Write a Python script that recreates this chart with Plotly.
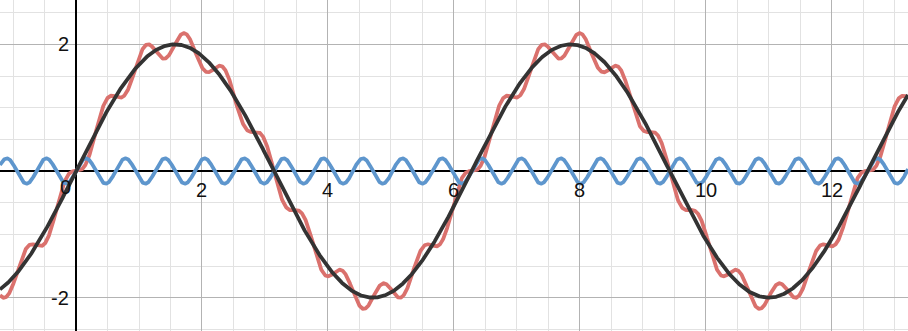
import numpy as np
import plotly.graph_objects as go

# Curve definitions: amplitude, angular frequency for each plotted function
base_amp, base_freq = 2.0, 1.0        # f(x) = 2 sin(x)
ripple_amp, ripple_freq = 0.2, 10.0   # g(x) = 0.2 sin(10x)

# Axis labels drawn next to the axes
x_tick_vals = [2, 4, 6, 8, 10, 12]
x_tick_text = ["2", "4", "6", "8", "10", "12"]
y_tick_vals = [2, -2]
y_tick_text = ["2", "-2"]

x_range = [-1.207, 13.21]
y_range = [-2.526, 2.70]

x = np.linspace(x_range[0], x_range[1], 3000)
base = base_amp * np.sin(base_freq * x)
ripple = ripple_amp * np.sin(ripple_freq * x)
combined = base - ripple

RED = "#da716d"
BLUE = "#5e96cd"
BLACK = "#333333"

fig = go.Figure()
fig.add_trace(go.Scatter(x=x, y=combined, mode="lines",
                         line=dict(color=RED, width=3.8), hoverinfo="skip"))
fig.add_trace(go.Scatter(x=x, y=ripple, mode="lines",
                         line=dict(color=BLUE, width=3.8), hoverinfo="skip"))
fig.add_trace(go.Scatter(x=x, y=base, mode="lines",
                         line=dict(color=BLACK, width=3.8), hoverinfo="skip"))

font = dict(family="Liberation Sans, Arial, sans-serif", size=20, color="#111111")
annotations = []
for v, t in zip(x_tick_vals, x_tick_text):
    annotations.append(dict(x=v, y=-0.30, text=t, showarrow=False, font=font,
                            xanchor="center", yanchor="middle"))
for v, t in zip(y_tick_vals, y_tick_text):
    annotations.append(dict(x=-0.08, y=v, text=t, showarrow=False, font=font,
                            xanchor="right", yanchor="middle"))
annotations.append(dict(x=-0.16, y=-0.26, text="0", showarrow=False, font=font,
                        xanchor="center", yanchor="middle"))

axis_common = dict(
    showticklabels=False, ticks="", showline=False,
    showgrid=True, gridcolor="#b3b3b3", gridwidth=1,
    zeroline=True, zerolinecolor="#000000", zerolinewidth=2,
    minor=dict(showgrid=True, gridcolor="#e2e2e2", gridwidth=1, dtick=0.5),
    dtick=2, tick0=0,
)

fig.update_layout(
    width=908, height=331,
    margin=dict(l=0, r=0, t=0, b=0),
    paper_bgcolor="white", plot_bgcolor="white",
    showlegend=False,
    xaxis=dict(range=x_range, **axis_common),
    yaxis=dict(range=y_range, **axis_common),
    annotations=annotations,
)

fig.write_html("out.html")
